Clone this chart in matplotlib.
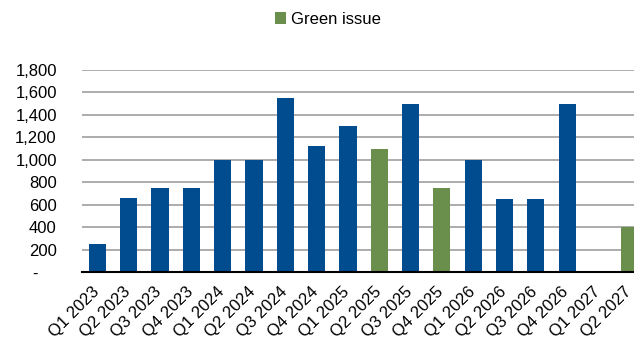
import matplotlib
matplotlib.use("Agg")
import matplotlib.pyplot as plt
from matplotlib.ticker import FuncFormatter
from matplotlib.transforms import ScaledTranslation
import numpy as np

plt.rcParams['font.family'] = ['Liberation Sans', 'DejaVu Sans']

categories = ["Q1 2023", "Q2 2023", "Q3 2023", "Q4 2023", "Q1 2024", "Q2 2024",
              "Q3 2024", "Q4 2024", "Q1 2025", "Q2 2025", "Q3 2025", "Q4 2025",
              "Q1 2026", "Q2 2026", "Q3 2026", "Q4 2026", "Q1 2027", "Q2 2027"]
values = [250, 660, 750, 750, 1000, 1000, 1550, 1125, 1300, 1100, 1500, 750,
          1000, 650, 650, 1500, 0, 400]
green_flag = [False, False, False, False, False, False, False, False, False, True,
              False, True, False, False, False, False, False, True]
legend_label = "Green issue"
yticks = [0, 200, 400, 600, 800, 1000, 1200, 1400, 1600, 1800]

blue = "#004C8F"
green = "#6A8E4B"

fig = plt.figure(figsize=(6.34, 3.43), dpi=100)
ax = fig.add_axes([0.129, 0.207, 0.889, 0.589])

x = np.arange(len(categories))
vals = np.array(values, dtype=float)
gmask = np.array(green_flag)
ax.bar(x[~gmask], vals[~gmask], width=0.55, color=blue, zorder=3)
ax.bar(x[gmask], vals[gmask], width=0.55, color=green, zorder=3, label=legend_label)

ax.set_xlim(-0.5, len(categories) - 0.5)
ax.set_ylim(0, 1800)
ax.set_yticks(yticks)
ax.yaxis.set_major_formatter(FuncFormatter(lambda v, p: "-    " if v == 0 else f"{v:,.0f}"))
ax.grid(axis='y', color='#A6A6A6', linewidth=1.3, zorder=0)
for s in ['top', 'right', 'left']:
    ax.spines[s].set_visible(False)
ax.spines['bottom'].set_color('black')
ax.spines['bottom'].set_linewidth(1.5)
ax.spines['bottom'].set_zorder(4)
ax.tick_params(axis='both', length=0, labelsize=12, colors='black')
ax.tick_params(axis='y', pad=18)
ax.tick_params(axis='x', pad=9)
ax.set_xticks(x)
ax.set_xticklabels(categories, rotation=45, ha='right', rotation_mode='anchor')
offset = ScaledTranslation(-6 / 100, 0, fig.dpi_scale_trans)
for lab in ax.get_xticklabels():
    lab.set_transform(lab.get_transform() + offset)

fig.legend(loc='upper center', bbox_to_anchor=(0.517, 1.01), frameon=False, fontsize=12,
           handlelength=0.7, handleheight=0.7, handletextpad=0.3)

fig.savefig("out.png", dpi=100)
